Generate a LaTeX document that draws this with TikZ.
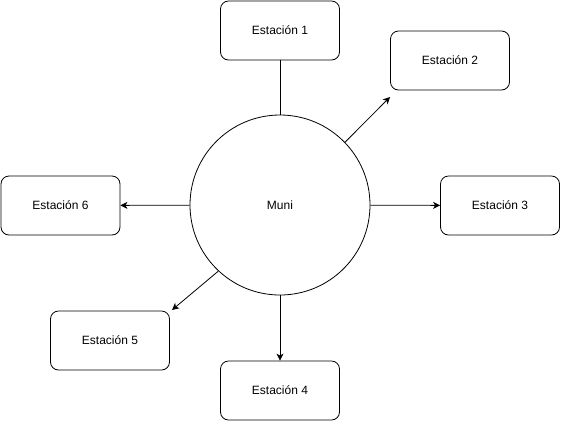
\documentclass[tikz,border=0pt]{standalone}
\usepackage{fontspec}
\setmainfont{Liberation Sans}
\usetikzlibrary{arrows.meta}
\begin{document}
\begin{tikzpicture}[x=1pt, y=-1pt, line width=0.8pt,
    allomas/.style={draw, rounded corners=8pt, minimum width=119pt, minimum height=59pt, font=\fontsize{12}{14}\selectfont},
    nyil/.style={-{Stealth[length=7pt,width=7pt,inset=2pt]}}]
    \useasboundingbox (0,0) rectangle (562,424);
    \node[draw, circle, minimum size=180pt, font=\fontsize{12}{14}\selectfont] (muni) at (280,205) {Muni};
    %Estaciones
    \node[allomas] (e1) at (280,30.5) {Estación 1};
    \node[allomas] (e2) at (450,60.5) {Estación 2};
    \node[allomas] (e3) at (500,205.5) {Estación 3};
    \node[allomas] (e4) at (280,390.5) {Estación 4};
    \node[allomas] (e5) at (110,340.5) {Estación 5};
    \node[allomas] (e6) at (60.5,205.5) {Estación 6};
    %A ferde nyilak szabad vége
    \coordinate (v2) at (390,97);
    \coordinate (v5) at (172,310);
    \draw (muni) -- (e1);
    \draw[nyil] (muni.44) -- (v2);
    \draw[nyil] (muni) -- (e3);
    \draw[nyil] (muni) -- (e4);
    \draw[nyil] (muni.227) -- (v5);
    \draw[nyil] (muni) -- (e6);
\end{tikzpicture}
\end{document}
